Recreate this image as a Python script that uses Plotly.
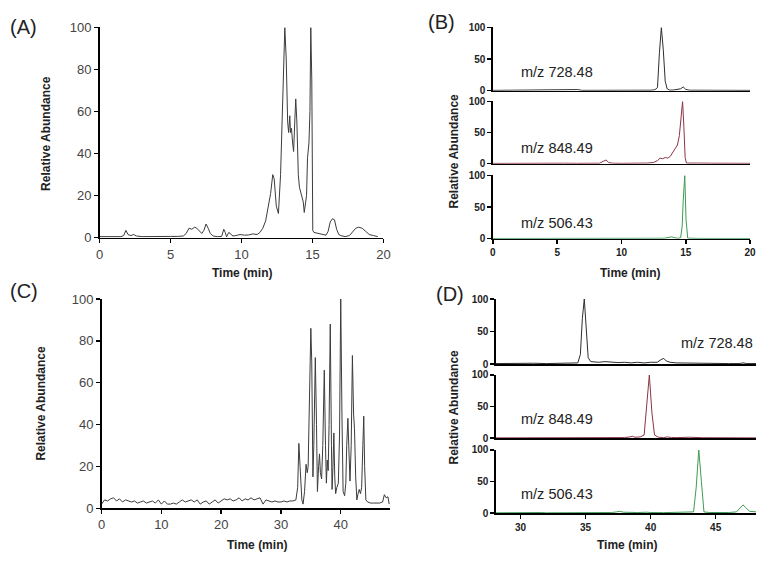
import plotly.graph_objects as go

W, H = 764, 563

# ---------------- data ----------------
a_time = [0, 0.5, 1.0, 1.5, 1.7, 1.85, 2.0, 2.2, 2.4, 2.6, 3.0, 3.5, 4.0, 4.5, 5.0, 5.5, 5.9, 6.1, 6.3, 6.5,
          6.7, 6.85, 7.0, 7.2, 7.35, 7.5, 7.65, 7.8, 8.0, 8.3, 8.6, 8.75, 8.85, 8.95, 9.1, 9.25, 9.4, 9.6, 9.9,
          10.2, 10.5, 10.8, 11.1, 11.3, 11.5, 11.7, 11.9, 12.05, 12.2, 12.3, 12.45, 12.6, 12.75, 12.9, 13.05,
          13.15, 13.25, 13.32, 13.4, 13.45, 13.52, 13.6, 13.67, 13.75, 13.82, 13.9, 14.0, 14.08, 14.15, 14.25,
          14.35, 14.42, 14.5, 14.58, 14.65, 14.75, 14.82, 14.88, 14.95, 15.02, 15.1, 15.4, 15.7, 15.95, 16.1,
          16.25, 16.4, 16.55, 16.7, 16.85, 17.0, 17.3, 17.6, 17.85, 18.05, 18.25, 18.5, 18.75, 19.0, 19.3, 19.6]
a_abund = [0.5, 0.5, 0.6, 0.5, 1.0, 3.5, 1.5, 1.0, 1.5, 0.8, 0.5, 0.6, 0.4, 0.5, 0.6, 0.6, 0.8, 2.0, 4.5, 4.0,
           5.0, 4.5, 3.5, 2.0, 3.5, 6.5, 4.5, 2.0, 0.8, 0.5, 0.6, 4.0, 2.5, 0.4, 2.5, 1.5, 0.8, 1.0, 1.5,
           1.2, 1.3, 1.8, 1.5, 2.5, 4.5, 8, 15, 21, 30, 28, 15, 11.5, 30, 65, 100,
           85, 55, 50, 58, 50, 52, 45, 41, 55, 66, 55, 30, 24, 22, 20,
           17, 12, 15, 20, 38, 45, 60, 100, 75, 3.5, 2.5, 2, 1.5, 1.2, 3,
           7.5, 9, 8.5, 4, 1.5, 1, 0.5, 1, 3, 4.5, 5, 4.5, 3, 1.5, 1, 0.5]

c_time = [0, 0.5, 1, 1.5, 2, 2.5, 3, 3.5, 4, 4.5, 5, 5.5, 6, 6.5, 7, 7.5, 8, 8.5, 9, 9.5, 10, 10.5, 11, 11.5,
          12, 12.5, 13, 13.5, 14, 14.5, 15, 15.5, 16, 16.5, 17, 17.5, 18, 18.5, 19, 19.5, 20, 20.5, 21, 21.5,
          22, 22.5, 23, 23.5, 24, 24.5, 25, 25.5, 26, 26.5, 27, 27.5, 28, 28.5, 29, 29.5, 30, 30.5, 31, 31.5,
          32, 32.5, 32.8, 33.0, 33.2, 33.5, 33.7, 33.95, 34.2, 34.4, 34.55, 34.75, 35.0, 35.15, 35.35, 35.5,
          35.75, 35.95, 36.1, 36.3, 36.45, 36.6, 36.8, 37.0, 37.25, 37.45, 37.6, 37.75, 37.9, 38.05, 38.25,
          38.45, 38.55, 38.7, 38.85, 39.0, 39.15, 39.35, 39.6, 39.8, 40.0, 40.2, 40.4, 40.65, 40.85, 41.0,
          41.2, 41.4, 41.55, 41.75, 41.95, 42.15, 42.3, 42.5, 42.7, 42.9, 43.1, 43.3, 43.5, 43.7, 43.85,
          44.0, 44.2, 44.5, 45, 45.5, 46, 46.5, 47, 47.3, 47.6, 47.9, 48.1]
c_abund = [2, 4, 3.5, 4.5, 5, 3.5, 4.5, 3, 4, 3.5, 3, 3.5, 2.5, 3, 3.5, 2.5, 3, 3.5, 2.5, 4, 2, 3.5, 2, 2,
           2.5, 2, 3, 4, 3, 3.5, 4, 3, 4, 2, 3, 3.5, 2, 3, 4, 2.5, 3.5, 4.5, 4, 4.5,
           3.5, 4, 5, 3.5, 4.5, 4, 5, 4, 4.5, 5, 2, 4, 3.5, 3, 3.5, 3, 3, 3.5, 3, 3.5,
           3.5, 4, 10, 31, 20, 4, 2, 8, 21, 17, 20, 45, 86, 70, 15, 30,
           72, 40, 8, 20, 26, 17, 14, 30, 66, 30, 12, 23, 18, 40, 88,
           30, 9, 20, 36, 15, 7, 10, 12, 35, 100, 45, 8, 6, 12, 30,
           43, 25, 13, 30, 73, 45, 38, 15, 4, 7, 9, 7, 10, 30, 44,
           20, 4, 3, 2.5, 2.5, 2.5, 2.5, 3, 6.5, 5, 5.5, 2]

b728_time = [0, 1, 2, 3, 4, 5, 6, 6.3, 6.6, 6.9, 7.5, 8.5, 9.5, 10.5, 11.5, 12.3, 12.6, 12.8, 12.95, 13.1,
             13.25, 13.4, 13.55, 13.75, 14.0, 14.3, 14.6, 14.8, 15.0, 15.3, 16, 17, 18, 19, 20]
b728_abund = [0.5, 0.6, 0.5, 0.6, 0.5, 0.5, 0.6, 1.5, 1.8, 0.6, 0.5, 0.5, 0.6, 0.5, 0.6, 0.8, 1.5, 5, 60, 100,
              65, 15, 3, 1, 1, 1.5, 3, 6, 2, 0.8, 0.6, 0.5, 0.6, 0.5, 0.5]
b848_time = [0, 1, 2, 2.3, 2.7, 3.5, 4.5, 5.5, 6.5, 7.5, 8.3, 8.6, 8.8, 9.0, 9.3, 10, 11, 12, 12.5, 12.8,
             13.0, 13.2, 13.4, 13.6, 13.8, 14.0, 14.2, 14.35, 14.5, 14.6, 14.75, 14.85, 14.95, 15.05, 15.3,
             16, 17, 18, 19, 20]
b848_abund = [0.5, 0.6, 0.8, 1.5, 1, 0.6, 1, 0.8, 0.6, 0.5, 0.8, 4, 6, 2, 0.8, 0.6, 0.6, 1, 2, 5,
              9, 8, 10, 9, 12, 18, 24, 30, 45, 70, 100, 60, 10, 1, 0.8,
              1, 0.8, 0.6, 0.8, 0.6]
b506_time = [0, 2, 4, 6, 8, 9.5, 10.3, 10.6, 10.9, 11.5, 12.5, 13.3, 13.7, 13.9, 14.1, 14.4, 14.6, 14.72,
             14.8, 14.92, 15.02, 15.15, 16, 17, 18, 19, 20]
b506_abund = [0.3, 0.4, 0.3, 0.4, 0.3, 0.4, 0.8, 1.2, 0.8, 0.4, 0.4, 0.6, 2, 3, 1.5, 0.6, 1.5, 20,
              60, 100, 30, 0.8, 0.4, 0.3, 0.4, 0.3, 0.3]

d728_time = [28.1, 29, 30, 31, 32, 33, 34, 34.4, 34.6, 34.75, 34.9, 35.05, 35.2, 35.4, 35.7, 36, 36.5, 37,
             37.5, 38, 38.5, 39, 39.5, 40, 40.5, 40.8, 41.0, 41.2, 41.5, 42, 43, 44, 45, 46, 46.8, 47.1,
             47.4, 48.1]
d728_abund = [1, 1.5, 1, 1.5, 1, 1.5, 1.5, 2, 15, 70, 100, 60, 10, 4, 3, 3, 4, 3,
              2.5, 3, 2, 3, 2, 3, 3, 7, 9, 5, 3, 2, 1.5, 1, 1, 1, 1, 2,
              1, 1]
d848_time = [28.1, 29, 30, 31, 32, 33, 34, 35, 36, 37, 38, 38.4, 38.6, 38.8, 39.2, 39.5, 39.7, 39.9, 40.1,
             40.3, 40.6, 41, 41.3, 41.6, 42, 43, 44, 45, 46, 47, 48.1]
d848_abund = [0.5, 0.5, 0.6, 0.5, 0.5, 0.6, 0.8, 1, 0.8, 1, 1, 2, 3, 1.5, 2, 5, 50, 100, 40,
              5, 1.5, 1, 2, 1, 1, 1.5, 0.8, 0.6, 0.5, 0.6, 0.5]
d506_time = [28.1, 29, 30, 31, 31.3, 31.6, 32, 33, 34, 35, 36, 37, 37.4, 37.6, 37.9, 38.5, 39, 39.7, 40, 41,
             42, 43, 43.3, 43.5, 43.7, 43.9, 44.1, 44.5, 45, 46, 46.6, 46.9, 47.1, 47.3, 47.6, 48.1]
d506_abund = [0.5, 0.8, 0.6, 1, 1.5, 1, 0.5, 0.6, 0.8, 0.5, 0.8, 1, 2, 3, 1.5, 1, 1, 1.5, 1, 0.8,
              1, 0.8, 2, 40, 100, 50, 2, 1, 0.8, 1, 2, 8, 13, 9, 3, 2]

mz_labels = ["m/z 728.48", "m/z 848.49", "m/z 506.43"]
panel_labels = ["(A)", "(B)", "(C)", "(D)"]
ab_ticks = [0, 20, 40, 60, 80, 100]
sub_ticks = [0, 50, 100]
b_xticks = [0, 5, 10, 15, 20]
c_xticks = [0, 10, 20, 30, 40]
d_xticks = [30, 35, 40, 45]

# ---------------- styling ----------------
FONT = "Liberation Sans, Arial, sans-serif"
DARK = "#3c3c3c"
C728 = "#2e2e2e"
C848 = "#8a3446"
C506 = "#3f9a52"
TXT = "#333333"


def xd(a, b):
    return [a / W, b / W]


def yd(top, bottom):
    return [1 - bottom / H, 1 - top / H]


fig = go.Figure()

panels = [
    (1, (97, 385), (21, 237), [0, 20], b_xticks, True, ab_ticks, 13),
    (2, (496, 757), (21, 86), [0, 20], b_xticks, False, sub_ticks, 10),
    (3, (496, 757), (97, 161), [0, 20], b_xticks, False, sub_ticks, 10),
    (4, (496, 757), (173, 238), [0, 20], b_xticks, True, sub_ticks, 10),
    (5, (99, 392), (300, 515), [0, 48.3], c_xticks, True, ab_ticks, 13),
    (6, (499, 763), (300, 367), [28.1, 48.1], d_xticks, False, sub_ticks, 10),
    (7, (499, 763), (378, 443), [28.1, 48.1], d_xticks, False, sub_ticks, 10),
    (8, (499, 763), (455, 520), [28.1, 48.1], d_xticks, True, sub_ticks, 10),
]

series = {
    1: (a_time, a_abund, DARK),
    2: (b728_time, b728_abund, C728),
    3: (b848_time, b848_abund, C848),
    4: (b506_time, b506_abund, C506),
    5: (c_time, c_abund, DARK),
    6: (d728_time, d728_abund, C728),
    7: (d848_time, d848_abund, C848),
    8: (d506_time, d506_abund, C506),
}

layout = {}
for idx, xpx, ypx, xr, xt, showx, yt, fs in panels:
    sfx = "" if idx == 1 else str(idx)
    t, v, col = series[idx]
    fig.add_trace(go.Scatter(x=t, y=v, mode="lines", line=dict(color=col, width=1),
                             xaxis="x" + sfx, yaxis="y" + sfx, showlegend=False,
                             hoverinfo="skip"))
    bold = fs < 12
    tf = dict(family=FONT, size=fs, color="#222" if bold else "#444")
    if bold:
        tf["weight"] = "bold"
    layout["xaxis" + sfx] = dict(
        domain=xd(*xpx), range=xr, anchor="y" + sfx, showline=True, linecolor="black",
        linewidth=1.5, showgrid=False, zeroline=False,
        tickvals=xt if showx else [], ticks="outside" if showx else "", ticklen=4,
        tickwidth=1.5, tickcolor="black", tickfont=tf, showticklabels=showx,
    )
    layout["yaxis" + sfx] = dict(
        domain=yd(*ypx), range=[0, 100], anchor="x" + sfx, showline=True, linecolor="black",
        linewidth=1.5, showgrid=False, zeroline=False, tickvals=yt, ticks="outside",
        ticklen=4, tickwidth=1.5, tickcolor="black", tickfont=tf,
    )

annotations = []


def ann(text, x, y, size, bold=False, angle=0, xanchor="center", color="#222"):
    t = f"<b>{text}</b>" if bold else text
    annotations.append(dict(text=t, x=x / W, y=1 - y / H, xref="paper", yref="paper",
                            showarrow=False, textangle=angle, xanchor=xanchor, yanchor="middle",
                            font=dict(family=FONT, size=size, color=color)))


ann(panel_labels[0], 20, 21, 20)
ann(panel_labels[1], 444, 15, 20)
ann(panel_labels[2], 20, 292, 20)
ann(panel_labels[3], 453, 295, 20)

ann("Time (min)", 241, 273, 12, bold=True)
ann("Time (min)", 635, 273, 12, bold=True)
ann("Time (min)", 257, 553, 12, bold=True)
ann("Time (min)", 632, 553, 12, bold=True)
ann("Relative Abundance", 42, 130, 12, bold=True, angle=-90)
ann("Relative Abundance", 38, 407, 12, bold=True, angle=-90)
ann("Relative Abundance", 457, 148, 12, bold=True, angle=-90)
ann("Relative Abundance", 457, 411, 12, bold=True, angle=-90)

ann(mz_labels[0], 523, 67, 14.5, xanchor="left")
ann(mz_labels[1], 523, 145, 14.5, xanchor="left")
ann(mz_labels[2], 523, 222, 14.5, xanchor="left")
ann(mz_labels[0], 762, 345, 14.5, xanchor="right")
ann(mz_labels[1], 523, 423, 14.5, xanchor="left")
ann(mz_labels[2], 523, 500, 14.5, xanchor="left")

fig.update_layout(
    width=W, height=H, margin=dict(l=0, r=0, t=0, b=0),
    paper_bgcolor="white", plot_bgcolor="white",
    font=dict(family=FONT, color=TXT),
    annotations=annotations, showlegend=False,
    **layout,
)

fig.write_html("out.html", config={"displayModeBar": False, "staticPlot": True},
               post_script="document.body.style.margin='0';document.body.style.overflow='hidden';")
